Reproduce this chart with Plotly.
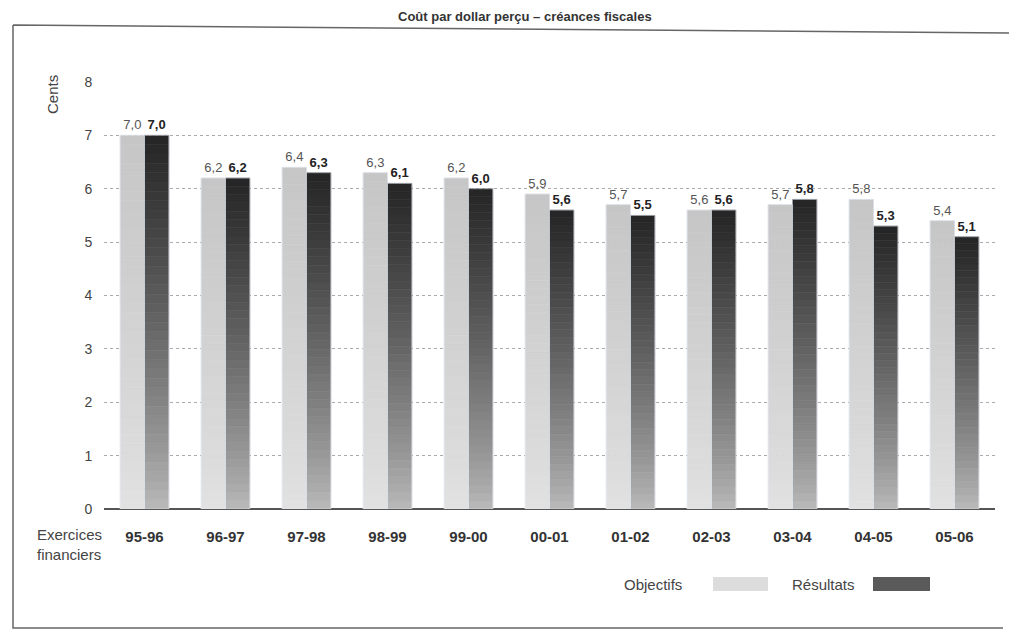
import plotly.graph_objects as go

# Exercices financiers et valeurs (cents)
exercices = ['95-96', '96-97', '97-98', '98-99', '99-00', '00-01',
             '01-02', '02-03', '03-04', '04-05', '05-06']
objectifs = [7.0, 6.2, 6.4, 6.3, 6.2, 5.9, 5.7, 5.6, 5.7, 5.8, 5.4]
resultats = [7.0, 6.2, 6.3, 6.1, 6.0, 5.6, 5.5, 5.6, 5.8, 5.3, 5.1]

# plot area in page pixels (used to place annotations/shapes)
L, R, T, B = 104, 995, 82, 509
W, H = 1017, 633
O = 8  # the browser's default body margin


def px(x):
    return (x - L) / (R - L)


def py(y):
    return (B - y) / (B - T)


def fmt(v):
    return f"{v:.1f}".replace('.', ',')


def mix(c_top, c_bot, t):
    # t=1 -> top colour, t=0 -> bottom colour
    return 'rgb(%d,%d,%d)' % tuple(round(b + (a - b) * t) for a, b in zip(c_top, c_bot))


FONT = 'Arial, Liberation Sans, sans-serif'
N = 40  # gradient slices per bar
BW = 0.3

fig = go.Figure()

# gradient bars made of stacked slices
for vals, off, ctop, cbot in [
    (objectifs, -BW, (198, 198, 198), (226, 226, 226)),
    (resultats, 0.0, (36, 36, 36), (188, 188, 188)),
]:
    for k in range(N):
        t = (k + 0.5) / N
        fig.add_trace(go.Bar(
            x=exercices,
            y=[v / N for v in vals],
            base=[v * k / N for v in vals],
            offset=off, width=BW,
            marker=dict(color=mix(ctop, cbot, t ** 0.8),
                        line=dict(width=0.6, color=mix(ctop, cbot, t ** 0.8))),
            hoverinfo='skip', showlegend=False,
        ))

# value labels (transparent bars carrying the text)
fig.add_trace(go.Bar(
    x=exercices, y=objectifs, offset=-BW, width=BW,
    marker=dict(color='rgba(0,0,0,0)'),
    text=[fmt(v) for v in objectifs], textposition='outside',
    constraintext='none', cliponaxis=False,
    textfont=dict(family=FONT, size=13, color='#555'),
    name='Objectifs', showlegend=False,
))
fig.add_trace(go.Bar(
    x=exercices, y=resultats, offset=0, width=BW,
    marker=dict(color='rgba(0,0,0,0)'),
    text=['<b>' + fmt(v) + '</b>' for v in resultats], textposition='outside',
    constraintext='none', cliponaxis=False,
    textfont=dict(family=FONT, size=13, color='#222'),
    name='Résultats', showlegend=False,
))

ann = [
    dict(text='<b>Coût par dollar perçu – créances fiscales</b>',
         x=px(525), y=py(16), xanchor='center', yanchor='middle',
         font=dict(size=13, color='#333')),
    dict(text='Cents', x=px(52), y=py(95), textangle=-90,
         xanchor='center', yanchor='middle', font=dict(size=15, color='#444')),
    dict(text='Exercices<br>financiers', x=px(35), y=py(544), align='left',
         xanchor='left', yanchor='middle', font=dict(size=15, color='#444')),
    dict(text='Objectifs', x=px(653), y=py(584), xanchor='center', yanchor='middle',
         font=dict(size=15, color='#444')),
    dict(text='Résultats', x=px(823), y=py(584), xanchor='center', yanchor='middle',
         font=dict(size=15, color='#444')),
]
for a in ann:
    a.update(xref='paper', yref='paper', showarrow=False)
    a['font']['family'] = FONT

shapes = [
    dict(type='rect', x0=px(713), x1=px(768), y0=py(591), y1=py(577),
         fillcolor='#dcdcdc', line=dict(width=0)),
    dict(type='rect', x0=px(873), x1=px(930), y0=py(591), y1=py(577),
         fillcolor='#5a5a5a', line=dict(width=0)),
    dict(type='path',
         path=f"M {px(13)},{py(25)} L {px(1017)},{py(33)} "
              f"M {px(13)},{py(25)} L {px(13)},{py(628)} L {px(1003)},{py(628)}",
         line=dict(color='#666', width=1.5)),
]
for s in shapes:
    s.update(xref='paper', yref='paper')

fig.update_layout(
    width=W - O, height=H - O,
    margin=dict(l=L - O, r=W - R, t=T - O, b=H - B),
    barmode='overlay',
    plot_bgcolor='white', paper_bgcolor='white',
    font=dict(family=FONT),
    annotations=ann, shapes=shapes,
    showlegend=False,
)
fig.update_xaxes(
    type='category', showgrid=False, showline=False,
    ticks='outside', ticklen=14, tickcolor='rgba(0,0,0,0)',
    tickfont=dict(size=15, color='#333', family=FONT, weight='bold'),
)
fig.update_yaxes(
    range=[0, 8], dtick=1, showgrid=True, griddash='dot',
    gridcolor='#aaa', gridwidth=1,
    zeroline=True, zerolinecolor='#555', zerolinewidth=1.5,
    ticks='outside', ticklen=8, tickcolor='rgba(0,0,0,0)',
    tickfont=dict(size=14, color='#444', family=FONT),
)

fig.write_html('out.html')
